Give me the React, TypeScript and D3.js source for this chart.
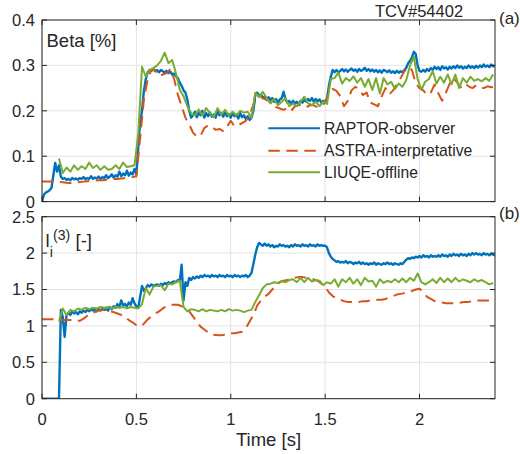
import React from 'react';
import * as d3 from 'd3';

// ---------- data ----------
const T_MAX = 2.4;
const X_TICKS = [0, 0.5, 1, 1.5, 2];
const BETA_TICKS = [0, 0.1, 0.2, 0.3, 0.4];
const LI_TICKS = [0, 0.5, 1, 1.5, 2, 2.5];
const SERIES_NAMES = ['RAPTOR-observer', 'ASTRA-interpretative', 'LIUQE-offline'];

// RAPTOR-observer, sampled every 0.01 s starting at 0 s (rows of 0.1 s)
const raptorBetaRows = [
  [0.0, 0.015, 0.02, 0.022, 0.025, 0.03, 0.058, 0.085, 0.066, 0.08],
  [0.055, 0.05, 0.052, 0.048, 0.05, 0.047, 0.052, 0.049, 0.051, 0.048],
  [0.052, 0.05, 0.054, 0.049, 0.052, 0.05, 0.056, 0.05, 0.053, 0.051],
  [0.055, 0.05, 0.054, 0.052, 0.058, 0.052, 0.055, 0.06, 0.053, 0.058],
  [0.055, 0.066, 0.056, 0.062, 0.058, 0.068, 0.057, 0.064, 0.06, 0.072],
  [0.06, 0.12, 0.175, 0.2, 0.245, 0.27, 0.285, 0.29, 0.288, 0.292],
  [0.287, 0.29, 0.285, 0.29, 0.287, 0.284, 0.288, 0.283, 0.286, 0.28],
  [0.282, 0.276, 0.272, 0.262, 0.255, 0.245, 0.24, 0.225, 0.2, 0.185],
  [0.19, 0.198, 0.186, 0.195, 0.19, 0.2, 0.185, 0.195, 0.188, 0.196],
  [0.187, 0.192, 0.185, 0.2, 0.19, 0.195, 0.187, 0.198, 0.188, 0.193],
  [0.185, 0.195, 0.188, 0.192, 0.183, 0.195, 0.186, 0.19, 0.182, 0.188],
  [0.18, 0.185, 0.2, 0.235, 0.24, 0.232, 0.236, 0.228, 0.232, 0.225],
  [0.23, 0.224, 0.228, 0.22, 0.226, 0.218, 0.225, 0.228, 0.242, 0.226],
  [0.218, 0.222, 0.215, 0.222, 0.216, 0.22, 0.214, 0.222, 0.218, 0.224],
  [0.22, 0.226, 0.222, 0.228, 0.22, 0.226, 0.221, 0.225, 0.218, 0.222],
  [0.22, 0.228, 0.255, 0.275, 0.29, 0.285, 0.29, 0.284, 0.288, 0.292],
  [0.287, 0.291, 0.286, 0.29, 0.293, 0.288, 0.291, 0.286, 0.292, 0.288],
  [0.29, 0.295, 0.288, 0.292, 0.287, 0.291, 0.286, 0.29, 0.285, 0.289],
  [0.284, 0.29, 0.288, 0.285, 0.289, 0.284, 0.287, 0.283, 0.288, 0.284],
  [0.287, 0.285, 0.29, 0.295, 0.305, 0.31, 0.318, 0.33, 0.325, 0.3],
  [0.288, 0.286, 0.29, 0.286, 0.292, 0.288, 0.294, 0.29, 0.297, 0.292],
  [0.296, 0.29, 0.298, 0.293, 0.296, 0.291, 0.297, 0.293, 0.298, 0.294],
  [0.3, 0.295, 0.298, 0.293, 0.297, 0.294, 0.3, 0.295, 0.298, 0.294],
  [0.299, 0.295, 0.3, 0.296, 0.302, 0.297, 0.3, 0.296, 0.302, 0.298],
  [0.3],
];

const raptorLiRows = [
  [0, 0, 0, 0, 0, 0, 0, 0, 0, 0],
  [1.22, 1.12, 0.85, 1.15, 1.18, 1.15, 1.2, 1.17, 1.19, 1.16],
  [1.2, 1.18, 1.21, 1.19, 1.22, 1.2, 1.23, 1.21, 1.22, 1.2],
  [1.23, 1.21, 1.24, 1.22, 1.23, 1.21, 1.26, 1.23, 1.27, 1.25],
  [1.3, 1.26, 1.35, 1.28, 1.3, 1.27, 1.32, 1.29, 1.38, 1.31],
  [1.27, 1.25, 1.4, 1.55, 1.48, 1.52, 1.56, 1.54, 1.57, 1.55],
  [1.56, 1.57, 1.55, 1.58, 1.56, 1.59, 1.57, 1.6, 1.58, 1.6],
  [1.61, 1.6, 1.63, 1.62, 1.84, 1.35, 1.6, 1.55, 1.66, 1.63],
  [1.67, 1.65, 1.68, 1.66, 1.69, 1.67, 1.7, 1.68, 1.69, 1.67],
  [1.7, 1.68, 1.69, 1.67, 1.7, 1.68, 1.69, 1.67, 1.7, 1.68],
  [1.69, 1.67, 1.7, 1.68, 1.69, 1.67, 1.69, 1.68, 1.7, 1.67],
  [1.69, 1.73, 1.85, 1.98, 2.08, 2.14, 2.12, 2.1, 2.13, 2.1],
  [2.12, 2.09, 2.11, 2.08, 2.1, 2.09, 2.12, 2.1, 2.11, 2.09],
  [2.1, 2.08, 2.11, 2.09, 2.12, 2.1, 2.11, 2.09, 2.12, 2.1],
  [2.11, 2.09, 2.12, 2.1, 2.11, 2.09, 2.12, 2.1, 2.11, 2.1],
  [2.1, 2.08, 2.0, 1.95, 1.92, 1.9, 1.88, 1.89, 1.87, 1.88],
  [1.87, 1.89, 1.86, 1.88, 1.87, 1.85, 1.87, 1.86, 1.88, 1.85],
  [1.87, 1.85, 1.86, 1.84, 1.86, 1.85, 1.87, 1.84, 1.86, 1.85],
  [1.84, 1.86, 1.85, 1.87, 1.85, 1.86, 1.84, 1.86, 1.85, 1.84],
  [1.86, 1.85, 1.88, 1.91, 1.93, 1.92, 1.94, 1.93, 1.95, 1.94],
  [1.96, 1.94, 1.97, 1.95, 1.96, 1.94, 1.97, 1.95, 1.96, 1.95],
  [1.97, 1.95, 1.98, 1.96, 1.97, 1.95, 1.98, 1.96, 1.99, 1.97],
  [1.98, 1.96, 1.99, 1.97, 1.98, 1.96, 1.99, 1.97, 2.0, 1.98],
  [2.0, 1.98, 1.99, 1.97, 2.0, 1.98, 1.99, 1.97, 1.99, 1.98],
  [1.97],
];
const RAPTOR_T0 = 0;
const RAPTOR_DT = 0.01;

// ASTRA-interpretative, every 0.02 s starting at 0 s
const astraBeta = [
  0.044, 0.044, 0.044, 0.044, 0.044, 0.043, 0.042, 0.041, 0.041, 0.042,
  0.043, 0.044, 0.045, 0.045, 0.046, 0.047, 0.047, 0.048, 0.049, 0.05,
  0.05, 0.051, 0.052, 0.053, 0.054, 0.056, 0.14, 0.225, 0.27, 0.29,
  0.29, 0.276, 0.28, 0.283, 0.292, 0.27, 0.235, 0.21, 0.185, 0.17,
  0.152, 0.143, 0.145, 0.162, 0.168, 0.165, 0.158, 0.16, 0.155, 0.165,
  0.178, 0.166, 0.168, 0.173, 0.178, 0.19, 0.215, 0.226, 0.23, 0.226,
  0.222, 0.215, 0.208, 0.205, 0.202, 0.206, 0.2, 0.21, 0.212, 0.213,
  0.208, 0.212, 0.212, 0.208, 0.21, 0.218, 0.24, 0.248, 0.244, 0.232,
  0.21, 0.222, 0.245, 0.253, 0.248, 0.235, 0.24, 0.218, 0.214, 0.21,
  0.232, 0.25, 0.236, 0.245, 0.258, 0.272, 0.287, 0.297, 0.29, 0.26,
  0.25, 0.245, 0.235, 0.24, 0.258, 0.238, 0.222, 0.24, 0.26, 0.272,
  0.262, 0.252, 0.26, 0.254, 0.25, 0.256, 0.252, 0.25, 0.254, 0.252,
  0.253,
];
const astraLi = [
  1.09, 1.09, 1.09, 1.09, 1.08, 1.08, 1.08, 1.08, 1.08, 1.07,
  1.07, 1.1, 1.14, 1.17, 1.19, 1.21, 1.22, 1.21, 1.2, 1.19,
  1.17, 1.15, 1.12, 1.08, 1.05, 1.01, 0.99, 1.03, 1.09, 1.13,
  1.17, 1.2, 1.24, 1.27, 1.29, 1.29, 1.29, 1.27, 1.24, 1.2,
  1.13, 1.06, 0.99, 0.95, 0.91, 0.88, 0.875, 0.87, 0.875, 0.89,
  0.9, 0.9, 0.91, 0.92, 0.97, 1.06, 1.15, 1.28, 1.35, 1.4,
  1.44, 1.5, 1.55, 1.6, 1.62, 1.63, 1.64, 1.66, 1.67, 1.67,
  1.66, 1.65, 1.64, 1.62, 1.58, 1.54, 1.46, 1.41, 1.38, 1.36,
  1.34, 1.33, 1.33, 1.33, 1.33, 1.34, 1.34, 1.35, 1.35, 1.36,
  1.36, 1.37, 1.39, 1.41, 1.43, 1.44, 1.45, 1.46, 1.48, 1.5,
  1.51, 1.46, 1.4, 1.37, 1.34, 1.33, 1.32, 1.31, 1.31, 1.31,
  1.31, 1.32, 1.33, 1.33, 1.34, 1.35, 1.35, 1.35, 1.35, 1.35,
  1.35,
];
const ASTRA_T0 = 0;
const ASTRA_DT = 0.02;

// LIUQE-offline, every 0.02 s starting at 0.09 s
const liuqeBeta = [
  0.095, 0.063, 0.075, 0.066, 0.08, 0.07, 0.078, 0.072, 0.086, 0.074,
  0.08, 0.07, 0.078, 0.07, 0.072, 0.08, 0.072, 0.086, 0.076, 0.078,
  0.08, 0.15, 0.297, 0.275, 0.29, 0.294, 0.3, 0.31, 0.328, 0.305,
  0.312, 0.282, 0.246, 0.232, 0.21, 0.195, 0.19, 0.203, 0.19, 0.206,
  0.195, 0.186, 0.206, 0.192, 0.202, 0.19, 0.198, 0.19, 0.2, 0.196,
  0.198, 0.185, 0.24, 0.23, 0.242, 0.228, 0.216, 0.226, 0.212, 0.22,
  0.228, 0.21, 0.216, 0.21, 0.22, 0.231, 0.216, 0.213, 0.22, 0.21,
  0.22, 0.215, 0.27, 0.272, 0.284, 0.26, 0.272, 0.266, 0.276, 0.262,
  0.272, 0.253, 0.27, 0.246, 0.272, 0.238, 0.272, 0.258, 0.264, 0.248,
  0.26, 0.253, 0.268, 0.3, 0.319, 0.27, 0.246, 0.264, 0.27, 0.287,
  0.26, 0.275, 0.262, 0.28, 0.258, 0.28, 0.25, 0.272, 0.262, 0.275,
  0.266, 0.27, 0.265, 0.272, 0.266, 0.28,
];
const liuqeLi = [
  1.06, 1.24, 1.15, 1.22, 1.2, 1.24, 1.22, 1.25, 1.23, 1.25,
  1.24, 1.26, 1.25, 1.26, 1.24, 1.26, 1.25, 1.26, 1.24, 1.26,
  1.25, 1.24, 1.3, 1.52, 1.43, 1.54, 1.55, 1.56, 1.49, 1.58,
  1.57, 1.6, 1.62, 1.26, 1.2, 1.23, 1.22, 1.2, 1.23, 1.2,
  1.22, 1.21, 1.2, 1.22, 1.2, 1.23, 1.21, 1.22, 1.21, 1.19,
  1.21, 1.22, 1.33, 1.42, 1.52, 1.57, 1.58, 1.6, 1.59, 1.62,
  1.6, 1.63, 1.64, 1.6, 1.66, 1.6, 1.66, 1.61, 1.63, 1.62,
  1.56, 1.6, 1.58, 1.64, 1.54, 1.64, 1.6, 1.66, 1.58, 1.64,
  1.56, 1.66, 1.61, 1.62, 1.54, 1.64, 1.59, 1.62, 1.6, 1.64,
  1.6, 1.65, 1.6, 1.66, 1.62, 1.72, 1.6, 1.57, 1.6, 1.64,
  1.59, 1.66, 1.6, 1.65, 1.6, 1.66, 1.61, 1.64, 1.62, 1.6,
  1.64, 1.61, 1.63, 1.6, 1.57, 1.59,
];
const LIUQE_T0 = 0.09;
const LIUQE_DT = 0.02;

// ---------- styling ----------
const COLORS = ['#0072BD', '#D95319', '#77AC30'];
const AXIS_COLOR = '#262626';
const GRID_COLOR = '#e3e3e3';
const FONT = '"Liberation Sans", Arial, Helvetica, sans-serif';

const X_LEFT = 42;
const X_RIGHT = 495;
const TOP_PANEL = { y0: 20, y1: 201.6 };
const BOT_PANEL = { y0: 216.7, y1: 398.7 };

type Pt = [number, number];

function sampled(values: number[], t0: number, dt: number): Pt[] {
  return values.map((v, i) => [+(t0 + i * dt).toFixed(4), v] as Pt);
}

const x = d3.scaleLinear().domain([0, T_MAX]).range([X_LEFT, X_RIGHT]);

interface PanelProps {
  id: string;
  y: d3.ScaleLinear<number, number>;
  yTicks: number[];
  yFmt: (v: number) => string;
  series: Pt[][];
  showX: boolean;
  children?: React.ReactNode;
}

function Panel({ id, y, yTicks, yFmt, series, showX, children }: PanelProps) {
  const [yb, yt] = y.range();
  const line = d3
    .line<Pt>()
    .x((d) => x(d[0]))
    .y((d) => y(d[1]));
  const tickLen = 5;
  return (
    <g>
      <defs>
        <clipPath id={`clip-${id}`}>
          <rect x={X_LEFT} y={yt} width={X_RIGHT - X_LEFT} height={yb - yt} />
        </clipPath>
      </defs>
      <rect x={X_LEFT} y={yt} width={X_RIGHT - X_LEFT} height={yb - yt} fill="#fff" />
      {X_TICKS.map((t) => (
        <line key={`gx${t}`} x1={x(t)} x2={x(t)} y1={yt} y2={yb} stroke={GRID_COLOR} strokeWidth={1} />
      ))}
      {yTicks.map((t) => (
        <line key={`gy${t}`} x1={X_LEFT} x2={X_RIGHT} y1={y(t)} y2={y(t)} stroke={GRID_COLOR} strokeWidth={1} />
      ))}
      <g clipPath={`url(#clip-${id})`} fill="none" strokeLinejoin="round">
        {series.map((s, i) => (
          <path
            key={i}
            d={line(s) || ''}
            stroke={COLORS[i]}
            strokeWidth={i === 0 ? 2.4 : 2}
            strokeDasharray={i === 1 ? '11.5,6.5' : undefined}
          />
        ))}
      </g>
      <rect x={X_LEFT} y={yt} width={X_RIGHT - X_LEFT} height={yb - yt} fill="none" stroke={AXIS_COLOR} strokeWidth={1} />
      {X_TICKS.map((t) => (
        <g key={`tx${t}`}>
          <line x1={x(t)} x2={x(t)} y1={yb} y2={yb - tickLen} stroke={AXIS_COLOR} />
          <line x1={x(t)} x2={x(t)} y1={yt} y2={yt + tickLen} stroke={AXIS_COLOR} />
          {showX && (
            <text x={x(t)} y={yb + 26} textAnchor="middle" fontSize={16.5} fill={AXIS_COLOR} fontFamily={FONT}>
              {d3.format('~g')(t)}
            </text>
          )}
        </g>
      ))}
      {yTicks.map((t) => (
        <g key={`ty${t}`}>
          <line x1={X_LEFT} x2={X_LEFT + tickLen} y1={y(t)} y2={y(t)} stroke={AXIS_COLOR} />
          <line x1={X_RIGHT} x2={X_RIGHT - tickLen} y1={y(t)} y2={y(t)} stroke={AXIS_COLOR} />
          <text x={35} y={y(t)} dy="0.36em" textAnchor="end" fontSize={16.5} fill={AXIS_COLOR} fontFamily={FONT}>
            {yFmt(t)}
          </text>
        </g>
      ))}
      {children}
    </g>
  );
}

export default function App() {
  const yTop = d3.scaleLinear().domain([0, 0.4]).range([TOP_PANEL.y1, TOP_PANEL.y0]);
  const yBot = d3.scaleLinear().domain([0, 2.5]).range([BOT_PANEL.y1, BOT_PANEL.y0]);

  const raptorBeta = sampled(raptorBetaRows.flat(), RAPTOR_T0, RAPTOR_DT);
  const raptorLi = sampled(raptorLiRows.flat(), RAPTOR_T0, RAPTOR_DT);
  const topSeries = [
    raptorBeta,
    sampled(astraBeta, ASTRA_T0, ASTRA_DT),
    sampled(liuqeBeta, LIUQE_T0, LIUQE_DT),
  ];
  const botSeries = [
    raptorLi,
    sampled(astraLi, ASTRA_T0, ASTRA_DT),
    sampled(liuqeLi, LIUQE_T0, LIUQE_DT),
  ];

  const legendY = [128.3, 150.7, 172.3];

  return (
    <svg
      width={520}
      height={454}
      style={{ position: 'absolute', left: 0, top: 0, background: '#fff' }}
      fontFamily={FONT}
    >
      <rect width={520} height={454} fill="#fff" />
      <Panel id="beta" y={yTop} yTicks={BETA_TICKS} yFmt={d3.format('~g')} series={topSeries} showX={false}>
        <text x={46.5} y={46.5} fontSize={18.5} fill={AXIS_COLOR}>Beta [%]</text>
        {SERIES_NAMES.map((name, i) => (
          <g key={name}>
            <line
              x1={268.3}
              x2={320}
              y1={legendY[i]}
              y2={legendY[i]}
              stroke={COLORS[i]}
              strokeWidth={2}
              strokeDasharray={i === 1 ? '11.5,6.5' : undefined}
            />
            <text x={324} y={legendY[i]} dy="0.36em" fontSize={15.7} fill={AXIS_COLOR}>
              {name}
            </text>
          </g>
        ))}
      </Panel>
      <Panel id="li" y={yBot} yTicks={LI_TICKS} yFmt={d3.format('~g')} series={botSeries} showX={true}>
        <text fontSize={18.5} fill={AXIS_COLOR}>
          <tspan x={45.5} y={246.5}>l</tspan>
          <tspan x={49.8} y={256.5} fontSize={14}>i</tspan>
          <tspan x={53} y={240} fontSize={14}>(3)</tspan>
          <tspan x={75.5} y={246.5}>[-]</tspan>
        </text>
      </Panel>
      <text x={375} y={16.5} fontSize={16.5} fill={AXIS_COLOR}>TCV#54402</text>
      <text x={499} y={24} fontSize={17} fill={AXIS_COLOR}>(a)</text>
      <text x={499} y={219} fontSize={17} fill={AXIS_COLOR}>(b)</text>
      <text x={(X_LEFT + X_RIGHT) / 2} y={446} textAnchor="middle" fontSize={18.5} fill={AXIS_COLOR}>
        Time [s]
      </text>
    </svg>
  );
}
